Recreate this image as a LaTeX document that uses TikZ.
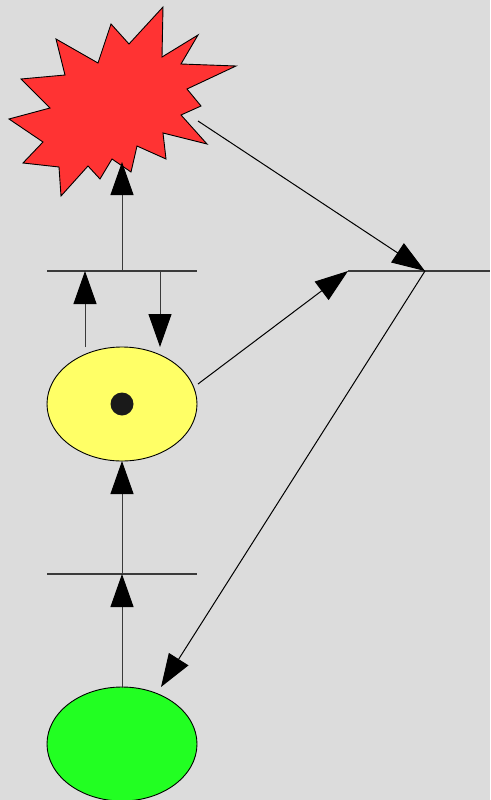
\documentclass[tikz,border=0pt]{standalone}
\usetikzlibrary{arrows.meta,shapes.geometric}
\definecolor{bg}{HTML}{DCDCDC}
\definecolor{starred}{HTML}{FF3333}
\definecolor{plyellow}{HTML}{FFFF66}
\definecolor{plgreen}{HTML}{22FF22}
\definecolor{tok}{HTML}{1A1A1A}
\definecolor{linec}{HTML}{3A3A3A}
\begin{document}
\begin{tikzpicture}[x=1pt,y=-1pt,
  place/.style={ellipse,draw=black,line width=0.9pt,minimum width=150pt,minimum height=114pt,inner sep=0pt},
  bar/.style={draw=linec,line width=1.1pt},
  arc/.style={draw=linec,line width=1pt,-{Triangle[length=33pt,width=23pt,color=black,fill=black]}},
  line join=miter]
\fill[bg] (0,0) rectangle (490,800);
\useasboundingbox (0,0) rectangle (490,800);
% star place
\draw[fill=starred,line width=0.9pt] (163,7) -- (162,57) -- (198,35) -- (181,64) -- (236,66) -- (187,89) -- (201,106) -- (181,115) -- (207,144) -- (163,133) -- (166,159) -- (137,146) -- (131,172) -- (112,159) -- (100,179) -- (88,166) -- (61,196) -- (59,167) -- (23,163) -- (43,142) -- (9,119) -- (50,108) -- (21,79) -- (65,75) -- (56,39) -- (98,63) -- (111,24) -- (129,44) -- cycle;
\coordinate (sb) at (122,162);
\coordinate (sr) at (198,121);
% places
\node[place,fill=plyellow] (p2) at (122,404) {};
\node[place,fill=plgreen] (p3) at (122,744) {};
\node[circle,fill=tok,minimum size=23pt,inner sep=0pt] (tk) at (122,404) {};
% transitions
\coordinate (t1l) at (47,271); \coordinate (t1r) at (197,271);
\coordinate (t2l) at (348,271); \coordinate (t2r) at (490,271);
\coordinate (t3l) at (47,574); \coordinate (t3r) at (197,574);
\draw[bar] (t1l) -- (t1r);
\draw[bar] (t2l) -- (t2r);
\draw[bar] (t3l) -- (t3r);
% connector end points
\coordinate (t1c) at (122,271);
\coordinate (t1a) at (85,271);
\coordinate (t1b) at (160,271);
\coordinate (p2a) at (85,347);
\coordinate (p2b) at (160,347);
\coordinate (p2r) at (198,384);
\coordinate (t2c) at (425,271);
\coordinate (p3t) at (161,687);
\coordinate (t3c) at (122,574);
\coordinate (p2s) at (122,461);
\coordinate (p3n) at (122,688);
% arcs
\draw[arc] (t1c) -- (sb);
\draw[arc] (p2a) -- (t1a);
\draw[arc] (t1b) -- (p2b);
\draw[arc,draw=black] (p2r) -- (t2l);
\draw[arc,draw=black] (sr) -- (t2c);
\draw[arc,draw=black] (t2c) -- (p3t);
\draw[arc] (p3n) -- (t3c);
\draw[arc] (t3c) -- (p2s);
\end{tikzpicture}
\end{document}
